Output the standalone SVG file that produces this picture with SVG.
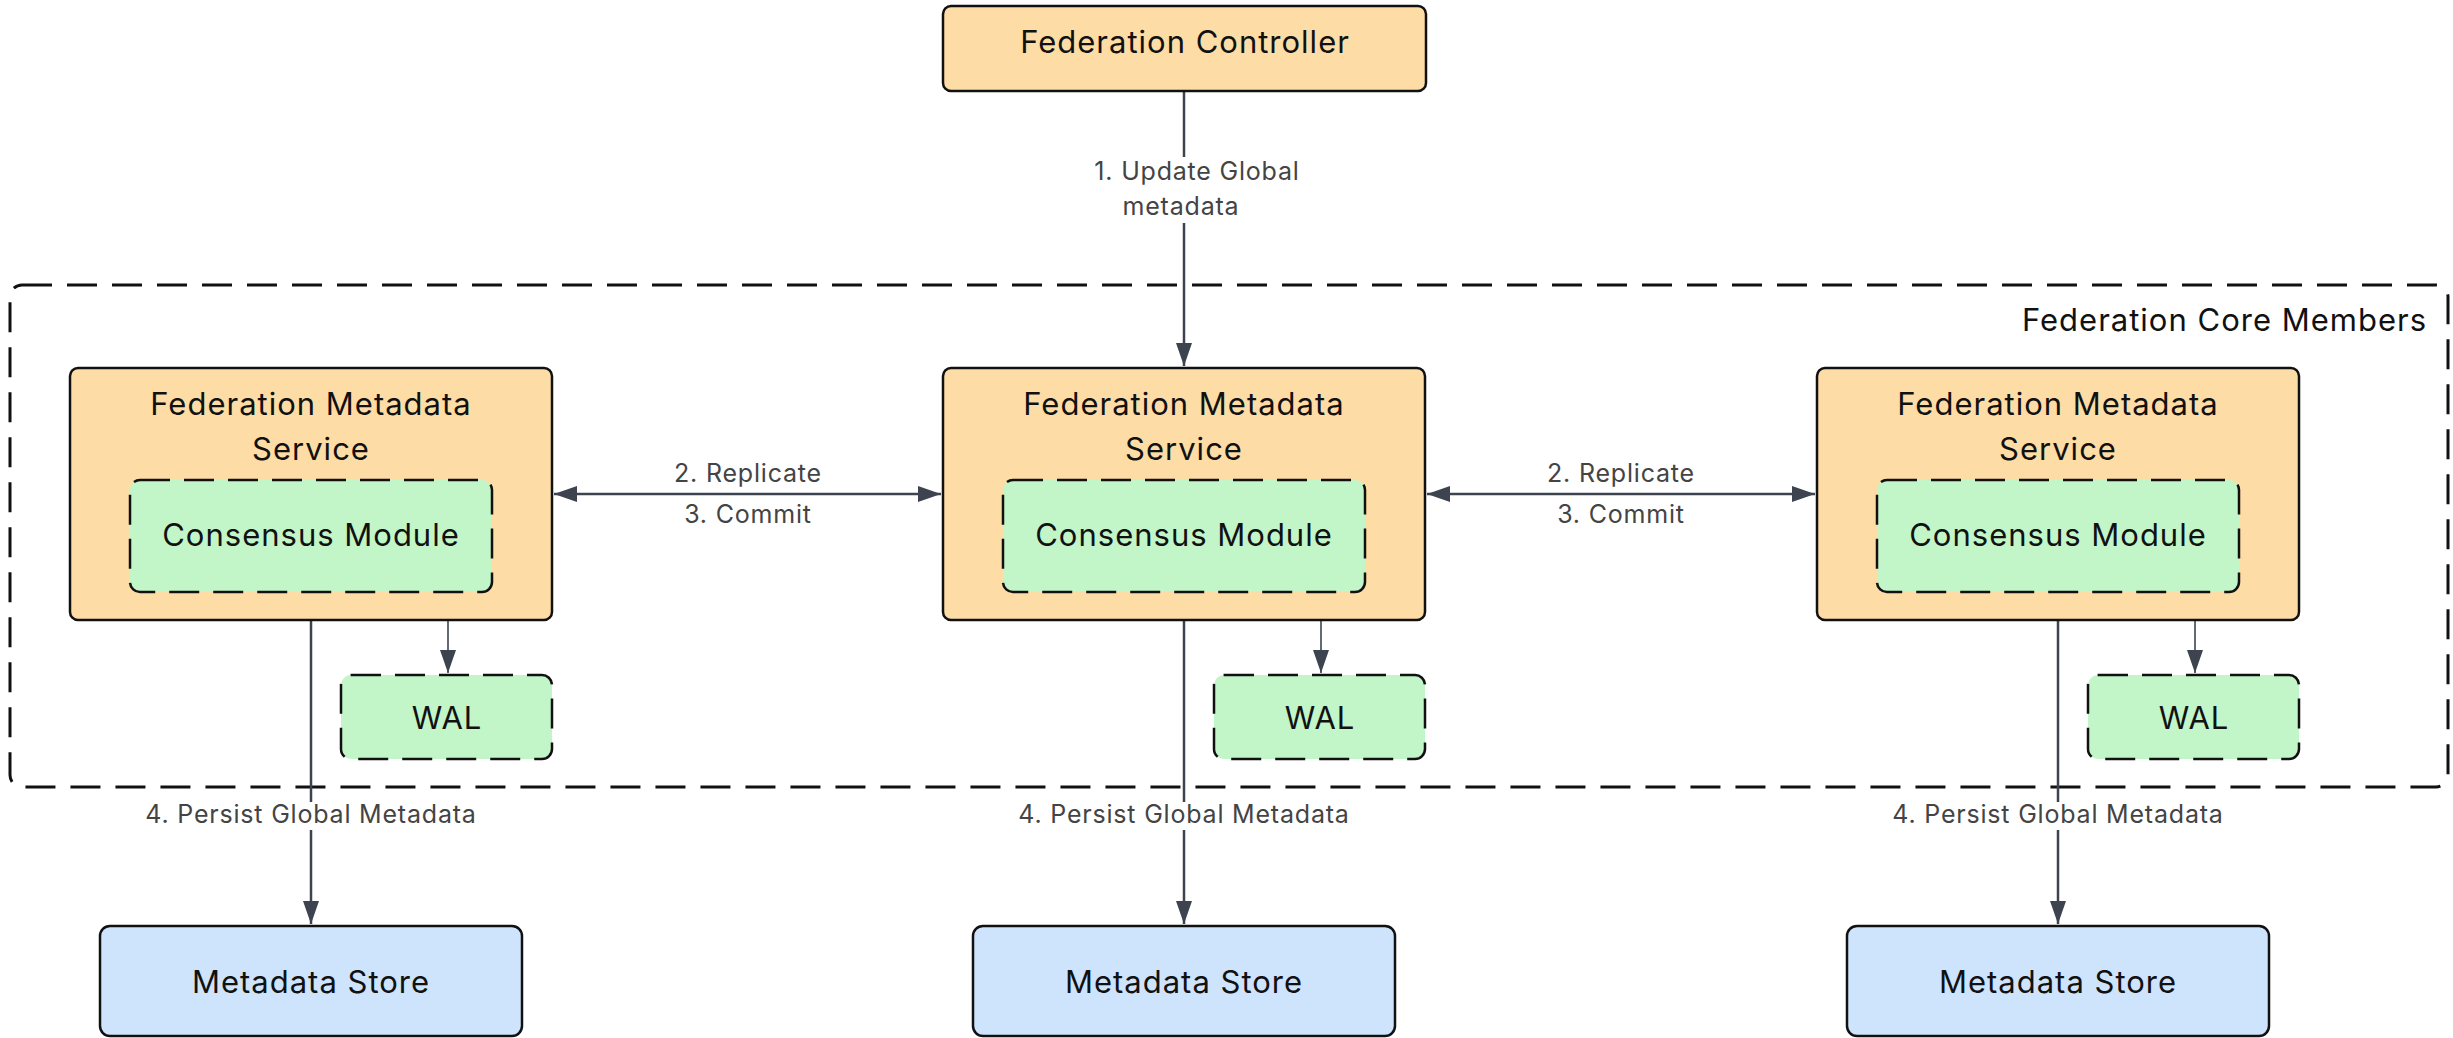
<svg xmlns="http://www.w3.org/2000/svg" width="2453" height="1038" viewBox="0 0 2453 1038">
  <style>
    .box { stroke: #111; stroke-width: 2.5; }
    .svc { fill: #FEDCA5; }
    .mod { fill: #C2F5C8; stroke-dasharray: 30 14; }
    .store { fill: #CEE4FD; }
    .group { fill: none; stroke: #111; stroke-width: 3; stroke-dasharray: 30 15; }
    .t { font-family: Inter, "Noto Sans", "Liberation Sans", sans-serif; font-size: 31px; letter-spacing: 1px; fill: #111; text-anchor: middle; }
    .lbl { font-family: Inter, "Noto Sans", "Liberation Sans", sans-serif; font-size: 25px; letter-spacing: 0.8px; fill: #444; text-anchor: middle; }
    .edge { fill: none; stroke: #3d4450; stroke-width: 2.5; }
    .edge.thin { stroke-width: 1.6; }
    .bg { fill: #fff; }
  </style>
  <defs>
    <marker id="arrow" markerUnits="userSpaceOnUse" markerWidth="24" markerHeight="18" refX="23" refY="8" orient="auto-start-reverse">
      <path d="M0,0 L23,8 L0,16 Z" fill="#3d4450"/>
    </marker>
  </defs>

  <rect width="2453" height="1038" fill="#fff"/>

  <!-- cluster boundary -->
  <g id="federation-core-members">
    <rect class="group" x="10" y="285" width="2438" height="502" rx="12"/>
    <text class="t" x="2427" y="331" style="text-anchor:end">Federation Core Members</text>
  </g>

  <!-- connectors -->
  <g id="connectors">
    <path class="edge" d="M1184,91 V366" marker-end="url(#arrow)"/>
    <path class="edge" d="M554,494 H941" marker-start="url(#arrow)" marker-end="url(#arrow)"/>
    <path class="edge" d="M1427,494 H1815" marker-start="url(#arrow)" marker-end="url(#arrow)"/>
    <path class="edge thin" d="M448,592 V673" marker-end="url(#arrow)"/>
    <path class="edge thin" d="M1321,592 V673" marker-end="url(#arrow)"/>
    <path class="edge thin" d="M2195,592 V673" marker-end="url(#arrow)"/>
    <path class="edge" d="M311,620 V924" marker-end="url(#arrow)"/>
    <path class="edge" d="M1184,620 V924" marker-end="url(#arrow)"/>
    <path class="edge" d="M2058,620 V924" marker-end="url(#arrow)"/>

    <rect class="bg" x="1085" y="157" width="225" height="66"/>
    <text class="lbl" x="1197" y="180">1. Update Global</text>
    <text class="lbl" x="1181" y="215">metadata</text>

    <text class="lbl" x="748" y="482">2. Replicate</text>
    <text class="lbl" x="748" y="523">3. Commit</text>
    <text class="lbl" x="1621" y="482">2. Replicate</text>
    <text class="lbl" x="1621" y="523">3. Commit</text>

    <rect class="bg" x="138" y="802" width="346" height="28"/>
    <text class="lbl" x="311" y="823">4. Persist Global Metadata</text>
    <rect class="bg" x="1011" y="802" width="346" height="28"/>
    <text class="lbl" x="1184" y="823">4. Persist Global Metadata</text>
    <rect class="bg" x="1885" y="802" width="346" height="28"/>
    <text class="lbl" x="2058" y="823">4. Persist Global Metadata</text>
  </g>

  <!-- nodes -->
  <g id="federation-controller">
    <rect class="box svc" x="943" y="6" width="483" height="85" rx="8"/>
    <text class="t" x="1185" y="53">Federation Controller</text>
  </g>

  <g id="fms-1">
    <rect class="box svc" x="70" y="368" width="482" height="252" rx="8"/>
    <text class="t" x="311" y="415">Federation Metadata</text>
    <text class="t" x="311" y="460">Service</text>
  </g>
  <g id="consensus-1">
    <rect class="box mod" x="130" y="480" width="362" height="112" rx="10"/>
    <text class="t" x="311" y="546">Consensus Module</text>
  </g>
  <g id="wal-1">
    <rect class="box mod" x="341" y="675" width="211" height="84" rx="10"/>
    <text class="t" x="447" y="729">WAL</text>
  </g>

  <g id="fms-2">
    <rect class="box svc" x="943" y="368" width="482" height="252" rx="8"/>
    <text class="t" x="1184" y="415">Federation Metadata</text>
    <text class="t" x="1184" y="460">Service</text>
  </g>
  <g id="consensus-2">
    <rect class="box mod" x="1003" y="480" width="362" height="112" rx="10"/>
    <text class="t" x="1184" y="546">Consensus Module</text>
  </g>
  <g id="wal-2">
    <rect class="box mod" x="1214" y="675" width="211" height="84" rx="10"/>
    <text class="t" x="1320" y="729">WAL</text>
  </g>

  <g id="fms-3">
    <rect class="box svc" x="1817" y="368" width="482" height="252" rx="8"/>
    <text class="t" x="2058" y="415">Federation Metadata</text>
    <text class="t" x="2058" y="460">Service</text>
  </g>
  <g id="consensus-3">
    <rect class="box mod" x="1877" y="480" width="362" height="112" rx="10"/>
    <text class="t" x="2058" y="546">Consensus Module</text>
  </g>
  <g id="wal-3">
    <rect class="box mod" x="2088" y="675" width="211" height="84" rx="10"/>
    <text class="t" x="2194" y="729">WAL</text>
  </g>

  <g id="store-1">
    <rect class="box store" x="100" y="926" width="422" height="110" rx="10"/>
    <text class="t" x="311" y="993">Metadata Store</text>
  </g>
  <g id="store-2">
    <rect class="box store" x="973" y="926" width="422" height="110" rx="10"/>
    <text class="t" x="1184" y="993">Metadata Store</text>
  </g>
  <g id="store-3">
    <rect class="box store" x="1847" y="926" width="422" height="110" rx="10"/>
    <text class="t" x="2058" y="993">Metadata Store</text>
  </g>
</svg>
